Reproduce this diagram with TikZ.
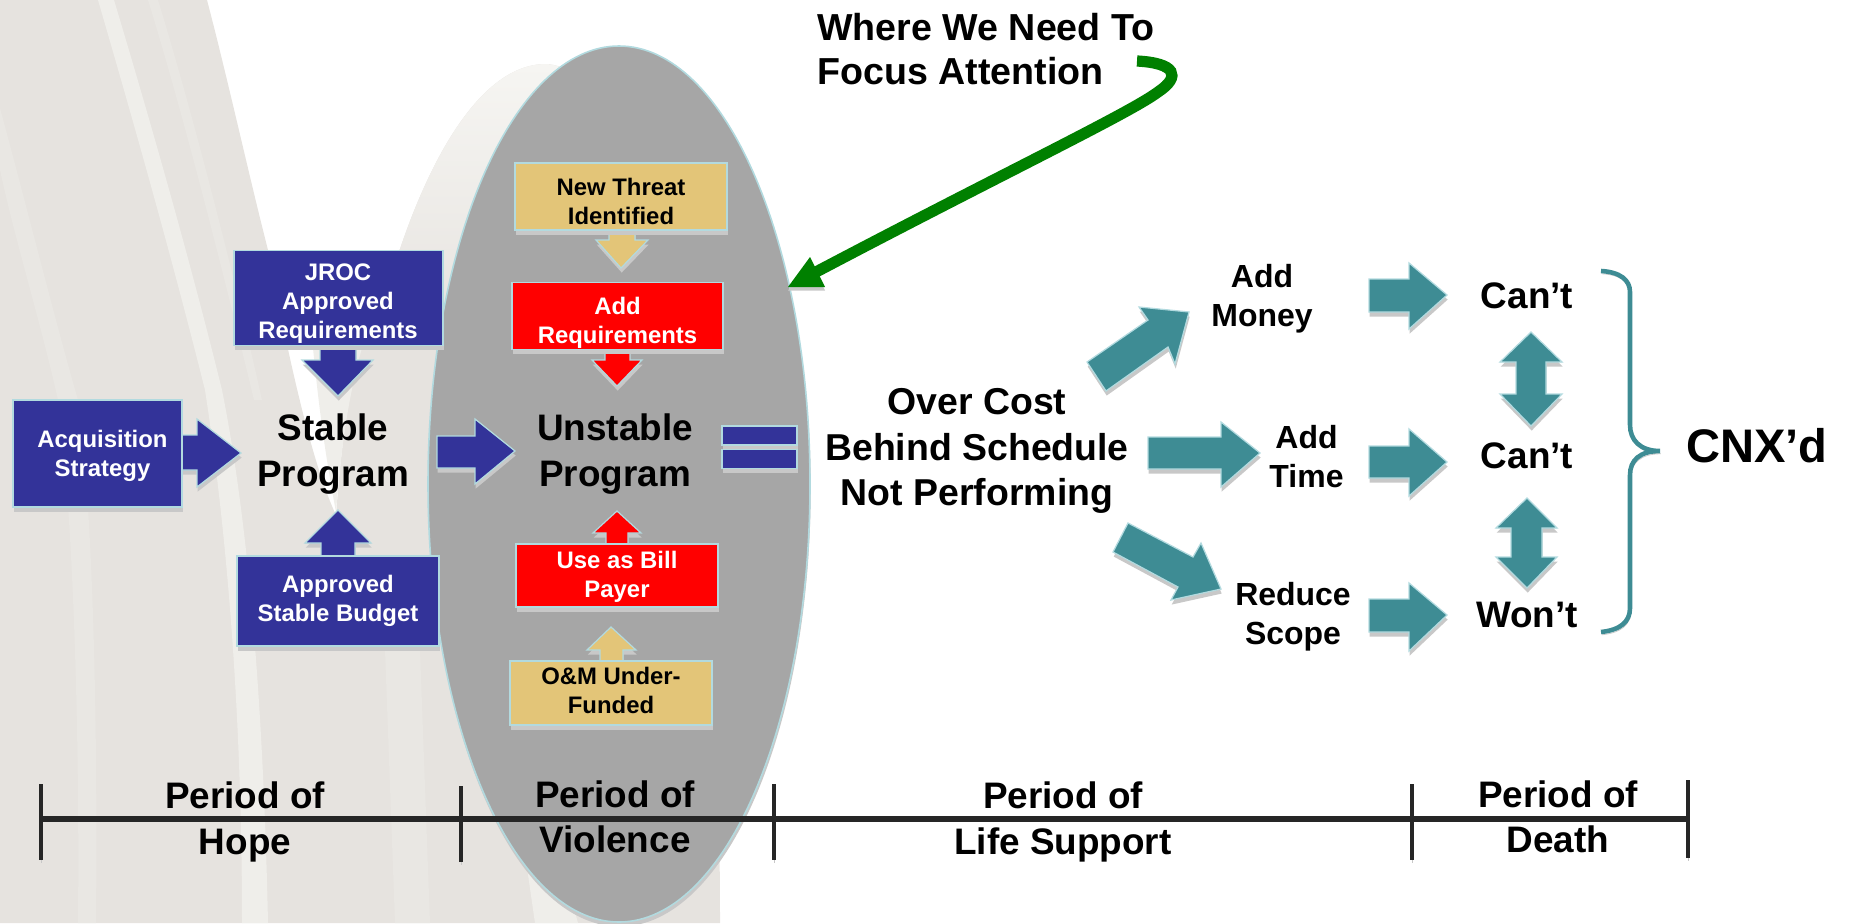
\documentclass[tikz,border=0pt]{standalone}
\usepackage{fontspec}
\setmainfont{Liberation Sans}
\usetikzlibrary{shapes.geometric,shadows}
\definecolor{bgc}{HTML}{E6E3DF}
\definecolor{bgl}{HTML}{EFEEEA}
\definecolor{bgm}{HTML}{E9E7E3}
\definecolor{bgt}{HTML}{F6F5F2}
\definecolor{ovalc}{HTML}{A6A6A6}
\definecolor{edgec}{HTML}{B2DADF}
\definecolor{bluec}{HTML}{333399}
\definecolor{tealc}{HTML}{3E8C94}
\definecolor{tanc}{HTML}{E3C578}
\definecolor{shc}{HTML}{C8C8C8}
\definecolor{darkc}{HTML}{262626}
\definecolor{greenc}{HTML}{008000}
\newcommand\fsz[2]{\fontsize{#1}{#2}\selectfont}
\tikzset{
  x=0.02cm,y=-0.02cm,
  sh/.style={general shadow={fill=shc,shadow xshift=0.4pt,shadow yshift=-2.6pt}},
  lsh/.style={preaction={draw=shc,transform canvas={xshift=#1,yshift=-1.6pt}}},
  blk/.style={sh,fill=#1,draw=edgec,line width=0.7pt,line join=miter},
  boxn/.style={blk=#1,rectangle,inner sep=0pt,outer sep=0pt},
  boxt/.style={inner sep=0pt,align=center,font=\bfseries\fsz{13.6}{16.5}},
  bigt/.style={inner sep=0pt,align=center,font=\bfseries\fsz{21}{25.8}},
  midt/.style={inner sep=0pt,align=center,font=\bfseries\fsz{18.2}{22.2}},
  tick/.style={lsh=0pt,darkc,line width=2.5pt},
  axisl/.style={lsh=0pt,darkc,line width=3.1pt},
}
\begin{document}
\begin{tikzpicture}
\useasboundingbox (0,0) rectangle (1851,923);
% background
\fill[bgc] (0,0) -- (207,0) .. controls (228,80) and (250,180) .. (268,250) .. controls (285,340) and (310,460) .. (336,515)
  .. controls (342,440) and (350,340) .. (400,249) .. controls (430,160) and (480,65) .. (545,64) .. controls (640,64) and (720,400) .. (720,923) -- (0,923) -- cycle;
\shade[top color=bgt,bottom color=bgc] (400,249) .. controls (430,160) and (480,65) .. (545,64) .. controls (600,64) and (640,180) .. (660,345) -- (372,345) .. controls (380,300) and (390,270) .. (400,249) -- cycle;
\fill[bgl] (313,348) .. controls (320,420) and (328,470) .. (336,512) .. controls (340,460) and (347,400) .. (362,348) -- cycle;
\fill[bgl] (98,0) -- (114,0) .. controls (150,120) and (190,260) .. (222,390) .. controls (240,480) and (262,640) .. (268,923) -- (242,923) .. controls (242,700) and (225,520) .. (205,390) .. controls (170,250) and (130,110) .. (98,0) -- cycle;
\fill[bgm] (0,108) .. controls (25,200) and (55,320) .. (78,400) .. controls (92,500) and (98,700) .. (96,923) -- (78,923) .. controls (80,720) and (72,500) .. (58,400) .. controls (40,320) and (15,240) .. (0,170) -- cycle;
\fill[bgm] (148,0) -- (158,0) .. controls (195,120) and (240,300) .. (262,400) -- (254,400) .. controls (225,280) and (185,120) .. (148,0) -- cycle;
\fill[bgm] (385,650) -- (420,650) -- (430,923) -- (395,923) -- cycle;
\fill[bgl] (523,840) -- (555,840) -- (578,923) -- (535,923) -- cycle;
% oval
\node[ellipse,sh,fill=ovalc,draw=edgec,line width=0.9pt,inner sep=0pt,outer sep=0pt,minimum width=382*0.02cm,minimum height=876*0.02cm] (oval) at (619,484) {};
% timeline
\coordinate (t0) at (41,819); \coordinate (t1) at (461,819); \coordinate (t2) at (774,819); \coordinate (t3) at (1412,819); \coordinate (t4) at (1688,819);
\coordinate (t0a) at (41,784); \coordinate (t0b) at (41,860);
\coordinate (t1a) at (461,786); \coordinate (t1b) at (461,862);
\coordinate (t2a) at (774,784); \coordinate (t2b) at (774,860);
\coordinate (t3a) at (1412,784); \coordinate (t3b) at (1412,860);
\coordinate (t4a) at (1688,780); \coordinate (t4b) at (1688,858);
\draw[axisl] (t0) -- (t4);
\foreach \k in {0,...,4}{\draw[tick] (t\k a) -- (t\k b);}
% block arrows left
\draw[blk=bluec] (320,340) -- (320,360) -- (302,360) -- (338,396) -- (373,360) -- (356,360) -- (356,340) -- cycle;
\draw[blk=bluec] (175,435) -- (197,435) -- (197,419) -- (241,453) -- (197,487) -- (197,470) -- (175,470) -- cycle;
\draw[blk=bluec] (321,560) -- (321,543) -- (305,543) -- (338,510) -- (371,543) -- (355,543) -- (355,560) -- cycle;
\draw[blk=bluec] (437,436) -- (475,436) -- (475,419) -- (515,451) -- (475,484) -- (475,468) -- (437,468) -- cycle;
\draw[blk=tanc] (609,228) -- (609,240) -- (596,240) -- (621,268) -- (648,240) -- (635,240) -- (635,228) -- cycle;
\draw[blk=red] (605,348) -- (605,360) -- (592,360) -- (617,386) -- (642,360) -- (630,360) -- (630,348) -- cycle;
\draw[blk=red] (606,548) -- (606,533) -- (593,533) -- (617,511) -- (641,533) -- (628,533) -- (628,548) -- cycle;
\draw[blk=tanc] (600,665) -- (600,650) -- (587,650) -- (611,627) -- (636,650) -- (623,650) -- (623,665) -- cycle;
% boxes
\node[boxn=bluec,minimum width=209*0.02cm,minimum height=95*0.02cm] (jroc) at (338.5,298) {};
\node[boxt,text=white] (jrocT) at (338,303.5) {JROC\\Approved\\Requirements};
\node[boxn=bluec,minimum width=169*0.02cm,minimum height=107*0.02cm] (acq) at (97.5,453.5) {};
\node[boxt,text=white] (acqT) at (102.5,455.5) {Acquisition\\Strategy};
\node[boxn=bluec,minimum width=202*0.02cm,minimum height=90*0.02cm] (budget) at (338,601) {};
\node[boxt,text=white] (budgetT) at (338,601) {Approved\\Stable Budget};
\node[boxn=tanc,minimum width=212*0.02cm,minimum height=67*0.02cm] (threat) at (621,196.5) {};
\node[boxt,text=black] (threatT) at (621,201) {New Threat\\Identified};
\node[boxn=red,minimum width=211*0.02cm,minimum height=67*0.02cm] (addreq) at (617.5,316) {};
\node[boxt,text=white] (addreqT) at (617.5,323) {Add\\Requirements};
\node[boxn=red,minimum width=202*0.02cm,minimum height=63*0.02cm] (bill) at (617,575.5) {};
\node[boxt,text=white] (billT) at (617,576.5) {Use as Bill\\Payer};
\node[boxn=tanc,minimum width=202*0.02cm,minimum height=64*0.02cm] (om) at (611,693) {};
\node[boxt,text=black] (omT) at (611,690) {O\&M Under-\\Funded};
\node[boxn=bluec,minimum width=75*0.02cm,minimum height=19*0.02cm] (eqa) at (759.5,435.5) {};
\node[boxn=bluec,minimum width=75*0.02cm,minimum height=19*0.02cm] (eqb) at (759.5,459) {};
% main labels
\node[bigt] (stable) at (333,454) {Stable\\Program};
\node[bigt] (unstable) at (615,454) {Unstable\\Program};
\node[bigt,font=\bfseries\fsz{21.3}{25.8}] (over) at (977,451) {Over Cost\\Behind Schedule\\Not Performing};
\node[bigt,anchor=west,align=left,font=\bfseries\fsz{21.4}{25}] (focus) at (817,49.5) {Where We Need To\\Focus Attention};
\node[bigt] (hope) at (245,822) {Period of\\Hope};
\node[bigt] (viol) at (615,817) {Period of\\Violence};
\node[bigt] (life) at (1063,822) {Period of\\Life Support};
\node[bigt] (death) at (1558,817) {Period of\\Death};
\node[midt] (money) at (1262,299) {Add\\Money};
\node[midt] (time) at (1306.5,457) {Add\\Time};
\node[midt] (scope) at (1293,617) {Reduce\\Scope};
\node[bigt] (cant1) at (1527,296) {Can’t};
\node[bigt] (cant2) at (1527,456) {Can’t};
\node[bigt] (wont) at (1527,615) {Won’t};
\node[inner sep=0pt,font=\bfseries\fsz{26.8}{30}] (cnx) at (1757,446) {CNX’d};
% teal arrows
\draw[blk=tealc] (1087,362) -- (1106,391) -- (1168,347) -- (1175,364) -- (1189,312) -- (1139,307) -- (1148,320) -- cycle;
\draw[blk=tealc] (1148,437) -- (1221,437) -- (1221,422) -- (1260,453) -- (1221,487) -- (1221,469) -- (1148,469) -- cycle;
\draw[blk=tealc] (1128,523) -- (1113,552) -- (1178,587) -- (1171,600) -- (1221,589) -- (1201,543) -- (1193,557) -- cycle;
\draw[blk=tealc] (1369,279) -- (1409,279) -- (1409,263) -- (1447,295) -- (1409,329) -- (1409,312) -- (1369,312) -- cycle;
\draw[blk=tealc] (1369,446) -- (1409,446) -- (1409,429) -- (1447,462) -- (1409,496) -- (1409,478) -- (1369,478) -- cycle;
\draw[blk=tealc] (1369,599) -- (1409,599) -- (1409,583) -- (1447,615) -- (1409,651) -- (1409,632) -- (1369,632) -- cycle;
\draw[blk=tealc] (1531,332) -- (1562,362) -- (1546,362) -- (1546,394) -- (1562,394) -- (1531,426) -- (1500,394) -- (1516,394) -- (1516,362) -- (1500,362) -- cycle;
\draw[blk=tealc] (1527,498) -- (1557,528) -- (1542,528) -- (1542,557) -- (1557,557) -- (1527,588) -- (1496,557) -- (1511,557) -- (1511,528) -- (1496,528) -- cycle;
% brace
\coordinate (bra) at (1601,271); \coordinate (brb) at (1660,451); \coordinate (brc) at (1601,632);
\draw[lsh=0.5pt,tealc,line width=2.6pt]
 (bra) .. controls (1620,272) and (1630,280) .. (1630,292) -- (1630,425) .. controls (1630,440) and (1640,451) .. (brb)
 .. controls (1640,451) and (1630,460) .. (1630,475) -- (1630,608) .. controls (1630,622) and (1620,630) .. (brc);
% green arrow
\coordinate (gs) at (1137,61); \coordinate (ge) at (816,272);
\draw[lsh=0.4pt,greenc,line width=6.4pt]
 (gs) .. controls (1175,63) and (1182,76) .. (1158,92) .. controls (1130,113) and (1000,175) .. (ge);
\fill[greenc,general shadow={fill=shc,shadow yshift=-2pt}] (788,287) -- (810,257) -- (825,287) -- cycle;
\end{tikzpicture}
\end{document}
